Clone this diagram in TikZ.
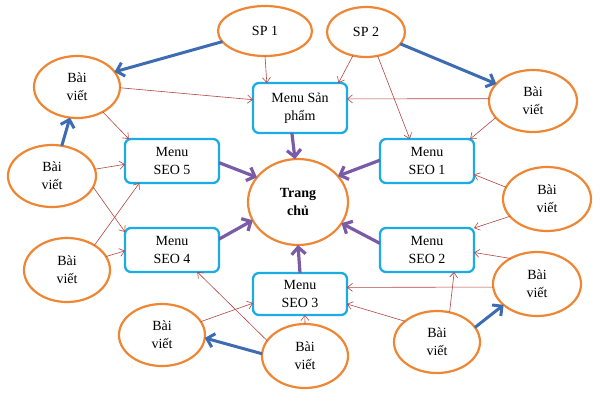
\documentclass[tikz,border=0pt]{standalone}
\usepackage{fontspec}
\setmainfont{Liberation Serif}
\usetikzlibrary{shapes.geometric,arrows.meta}
\definecolor{orng}{RGB}{238,134,52}
\definecolor{cyn}{RGB}{28,172,228}
\definecolor{rd}{RGB}{178,70,66}
\definecolor{blu}{RGB}{62,108,178}
\definecolor{prp}{RGB}{122,92,166}
\begin{document}
\begin{tikzpicture}[x=1pt,y=-1pt,
  txt/.style={font=\fontsize{14}{18}\selectfont,align=center},
  bv/.style 2 args={ellipse,draw=orng,line width=2.2pt,inner sep=0pt,outer sep=0pt,
     minimum width=#1,minimum height=#2,txt},
  menu/.style={rectangle,rounded corners=6pt,draw=cyn,line width=2.3pt,inner sep=0pt,outer sep=0pt,
     minimum width=94pt,minimum height=44pt,txt},
  thin/.style={draw=rd,line width=0.6pt,-{Straight Barb[length=5pt,width=8pt]}},
  bluarr/.style={draw=blu,line width=3pt,-{Straight Barb[length=7pt,width=14pt]}},
  prparr/.style={draw=prp,line width=3.2pt,-{Straight Barb[length=7pt,width=14pt]}}
]
\useasboundingbox (0,0) rectangle (600,400);
\fill[white] (0,0) rectangle (600,400);

% ellipses
\node[bv={94pt}{50pt}] (SP1) at (265,31) {SP 1};
\node[bv={78pt}{50pt}] (SP2) at (366,32) {SP 2};
\node[bv={86pt}{62pt}] (TL) at (77,87) {Bài\\viết};
\node[bv={88pt}{62pt}] (TR) at (533,101) {Bài\\viết};
\node[bv={88pt}{62pt}] (L2) at (52,176) {Bài\\viết};
\node[bv={86pt}{64pt}] (L3) at (67,270) {Bài\\viết};
\node[bv={86pt}{62pt}] (BL) at (162,335) {Bài\\viết};
\node[bv={86pt}{64pt}] (BC) at (305,356) {Bài\\viết};
\node[bv={86pt}{62pt}] (BR) at (437,342) {Bài\\viết};
\node[bv={88pt}{64pt}] (R2) at (537,284) {Bài\\viết};
\node[bv={88pt}{64pt}] (R1) at (547,199) {Bài\\viết};
\node[bv={100pt}{86pt},font=\fontsize{14}{18}\selectfont\bfseries] (TC) at (298,202) {Trang\\chủ};

% menus
\node[menu,minimum height=50pt] (MSP) at (300,108) {Menu Sản\\phẩm};
\node[menu] (S5) at (172,161) {Menu\\SEO 5};
\node[menu] (S1) at (427,161) {Menu\\SEO 1};
\node[menu] (S4) at (172,250) {Menu\\SEO 4};
\node[menu] (S2) at (427,250) {Menu\\SEO 2};
\node[menu,minimum height=42pt] (S3) at (300,294) {Menu\\SEO 3};

% thin red arrows
\draw[thin] (SP1.270) -- (MSP.143);
\draw[thin] (SP2.241) -- (MSP.33);
\draw[thin] (SP2.296) -- (S1.128);
\draw[thin] (TL.359) -- (MSP.170);
\draw[thin] (TL.316) -- (S5.153);
\draw[thin] (TR.177) -- (MSP.11);
\draw[thin] (TR.204) -- (S1.27);
\draw[thin] (L2.9) -- (S5.184);
\draw[thin] (L2.345) -- (S4.159);
\draw[thin] (L3.42) -- (S5.214);
\draw[thin] (L3.19) -- (S4.181);
\draw[thin] (R1.164) -- (S1.344);
\draw[thin] (R1.205) -- (S2.25);
\draw[thin] (R2.136) -- (S2.357);
\draw[thin] (R2.184) -- (S3.8);
\draw[thin] (BR.67) -- (S2.321);
\draw[thin] (BR.147) -- (S3.348);
\draw[thin] (BC.90) -- (S3.283);
\draw[thin] (BC.158) -- (S4.319);
\draw[thin] (BL.19) -- (S3.191);

% blue arrows
\draw[bluarr] (SP1.194) -- (TL.22);
\draw[bluarr] (SP2.341) -- (TR.155);
\draw[bluarr] (L2.72) -- (TL.257);
\draw[bluarr] (BC.177) -- (BL.356);
\draw[bluarr] (BR.21) -- (R2.212);

% purple arrows
\draw[prparr] (MSP.252) -- (TC.94);
\draw[prparr] (S5.358) -- (TC.149);
\draw[prparr] (S1.179) -- (TC.33);
\draw[prparr] (S4.13) -- (TC.202);
\draw[prparr] (S2.172) -- (TC.334);
\draw[prparr] (S3.90) -- (TC.270);
\end{tikzpicture}
\end{document}
